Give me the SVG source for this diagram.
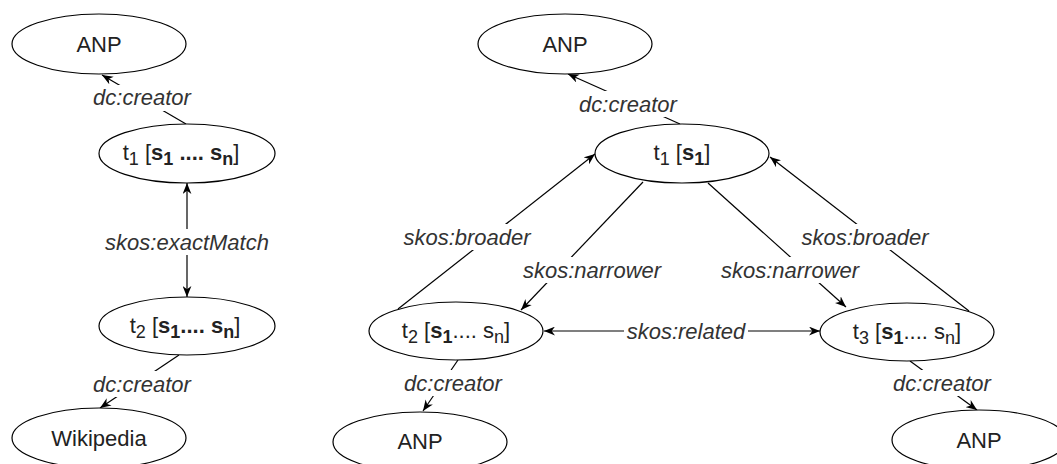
<svg xmlns="http://www.w3.org/2000/svg" width="1057" height="464" viewBox="0 0 1057 464">
<style>
.node ellipse{fill:#fff;stroke:#000;stroke-width:1.2}
.nt{font-family:"Liberation Sans",Arial,sans-serif;font-size:22px;fill:#222;text-anchor:middle}
.b{font-weight:bold}
.sub{font-size:18px}
.edge{stroke:#000;stroke-width:1.2;fill:none}
.lbg{fill:#fff}
.lt{font-family:"Liberation Sans",Arial,sans-serif;font-size:22px;font-style:italic;fill:#333;text-anchor:middle}
</style>
<defs>
<marker id="arr" viewBox="0 0 10 8" refX="10" refY="4" markerWidth="11" markerHeight="9" markerUnits="userSpaceOnUse" orient="auto-start-reverse">
<path d="M0,0 L10,4 L0,8 L3,4 Z" fill="#000"/>
</marker>
</defs>
<rect width="1057" height="464" fill="#fff"/>
<g id="connectors">
<line class="edge" x1="186" y1="124" x2="102" y2="75" marker-end="url(#arr)"/>
<line class="edge" x1="187" y1="183" x2="187" y2="297" marker-start="url(#arr)" marker-end="url(#arr)"/>
<line class="edge" x1="179" y1="355" x2="100" y2="408" marker-end="url(#arr)"/>
<line class="edge" x1="680" y1="124" x2="568" y2="74" marker-end="url(#arr)"/>
<line class="edge" x1="398" y1="309" x2="595" y2="154" marker-end="url(#arr)"/>
<line class="edge" x1="643" y1="182" x2="521" y2="310" marker-end="url(#arr)"/>
<line class="edge" x1="708" y1="183" x2="846" y2="307" marker-end="url(#arr)"/>
<line class="edge" x1="969" y1="311" x2="770" y2="157" marker-end="url(#arr)"/>
<line class="edge" x1="544" y1="331" x2="820" y2="331" marker-start="url(#arr)" marker-end="url(#arr)"/>
<line class="edge" x1="458" y1="360" x2="423" y2="411" marker-end="url(#arr)"/>
<line class="edge" x1="910" y1="361" x2="977" y2="410" marker-end="url(#arr)"/>
<rect class="lbg" x="92" y="85" width="101" height="26"/>
<text class="lt" x="142" y="105">dc:creator</text>
<rect class="lbg" x="103" y="229" width="168" height="26"/>
<text class="lt" x="187" y="250">skos:exactMatch</text>
<rect class="lbg" x="92" y="371" width="101" height="26"/>
<text class="lt" x="142" y="392">dc:creator</text>
<rect class="lbg" x="578" y="91" width="101" height="26"/>
<text class="lt" x="628" y="112">dc:creator</text>
<rect class="lbg" x="402" y="224" width="130" height="26"/>
<text class="lt" x="467" y="245">skos:broader</text>
<rect class="lbg" x="521" y="257" width="143" height="26"/>
<text class="lt" x="592" y="278">skos:narrower</text>
<rect class="lbg" x="718" y="257" width="143" height="26"/>
<text class="lt" x="790" y="278">skos:narrower</text>
<rect class="lbg" x="800" y="224" width="130" height="26"/>
<text class="lt" x="865" y="245">skos:broader</text>
<rect class="lbg" x="624" y="318" width="124" height="26"/>
<text class="lt" x="686" y="339">skos:related</text>
<rect class="lbg" x="403" y="370" width="101" height="26"/>
<text class="lt" x="453" y="391">dc:creator</text>
<rect class="lbg" x="892" y="370" width="101" height="26"/>
<text class="lt" x="942" y="391">dc:creator</text>
</g>
<g id="n-anp-left" class="node">
<ellipse cx="99" cy="44" rx="87" ry="30"/>
<text class="nt" x="99" y="52">ANP</text>
</g>
<g id="n-t1-left" class="node">
<ellipse cx="187" cy="153.5" rx="88" ry="29.5"/>
<text class="nt" x="181" y="160">t<tspan class="sub" dy="5">1</tspan><tspan dy="-5"> [</tspan><tspan class="b">s</tspan><tspan class="b sub" dy="5">1</tspan><tspan class="b" dy="-5"> .... s</tspan><tspan class="b sub" dy="5">n</tspan><tspan dy="-5">]</tspan></text>
</g>
<g id="n-t2-left" class="node">
<ellipse cx="187" cy="326" rx="88" ry="29"/>
<text class="nt" x="185" y="333">t<tspan class="sub" dy="5">2</tspan><tspan dy="-5"> [</tspan><tspan class="b">s</tspan><tspan class="b sub" dy="5">1</tspan><tspan class="b" dy="-5">.... s</tspan><tspan class="b sub" dy="5">n</tspan><tspan dy="-5">]</tspan></text>
</g>
<g id="n-wikipedia" class="node">
<ellipse cx="99" cy="438" rx="87" ry="30"/>
<text class="nt" x="99" y="446">Wikipedia</text>
</g>
<g id="n-anp-top" class="node">
<ellipse cx="565" cy="44" rx="87" ry="30"/>
<text class="nt" x="565" y="52">ANP</text>
</g>
<g id="n-t1-right" class="node">
<ellipse cx="682" cy="153.5" rx="87" ry="29.5"/>
<text class="nt" x="682" y="160">t<tspan class="sub" dy="5">1</tspan><tspan dy="-5"> [</tspan><tspan class="b">s</tspan><tspan class="b sub" dy="5">1</tspan><tspan dy="-5">]</tspan></text>
</g>
<g id="n-t2-right" class="node">
<ellipse cx="456" cy="331" rx="87" ry="29"/>
<text class="nt" x="456" y="338">t<tspan class="sub" dy="5">2</tspan><tspan dy="-5"> [</tspan><tspan class="b">s</tspan><tspan class="b sub" dy="5">1</tspan><tspan dy="-5">.... s</tspan><tspan class="sub" dy="5">n</tspan><tspan dy="-5">]</tspan></text>
</g>
<g id="n-t3-right" class="node">
<ellipse cx="907" cy="332" rx="87" ry="29"/>
<text class="nt" x="907" y="339">t<tspan class="sub" dy="5">3</tspan><tspan dy="-5"> [</tspan><tspan class="b">s</tspan><tspan class="b sub" dy="5">1</tspan><tspan dy="-5">.... s</tspan><tspan class="sub" dy="5">n</tspan><tspan dy="-5">]</tspan></text>
</g>
<g id="n-anp-bl" class="node">
<ellipse cx="420" cy="442" rx="87" ry="30"/>
<text class="nt" x="420" y="449">ANP</text>
</g>
<g id="n-anp-br" class="node">
<ellipse cx="979" cy="440" rx="87" ry="30"/>
<text class="nt" x="979" y="448">ANP</text>
</g>
</svg>
